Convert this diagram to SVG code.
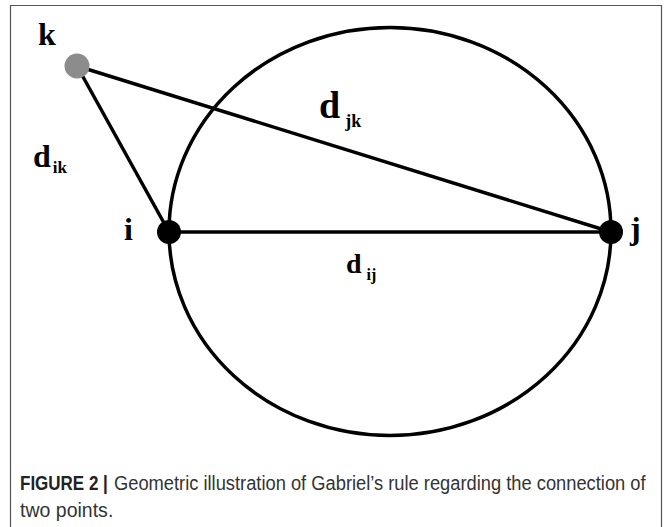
<svg xmlns="http://www.w3.org/2000/svg" width="665" height="527" viewBox="0 0 665 527">
<style>
.lbl{font-family:"Liberation Serif","Times New Roman",serif;font-weight:bold;fill:#000}
.edge{stroke:#000;stroke-width:3.5;fill:none}
.cap{font-family:"Liberation Sans",Arial,sans-serif;fill:#333;font-size:21px}
.capb{font-family:"Liberation Sans",Arial,sans-serif;fill:#222;font-size:21px;font-weight:bold}
</style>
<rect width="665" height="527" fill="#fff"/>
<path d="M10.5,528 V5.5 H661.5 V528" fill="none" stroke="#555" stroke-width="1.2"/>
<g id="connectors">
<ellipse class="edge" cx="390" cy="231.5" rx="221" ry="204"/>
<line class="edge" x1="77" y1="66" x2="169" y2="232"/>
<line class="edge" x1="77" y1="66" x2="611" y2="232"/>
<line class="edge" x1="169" y1="232" x2="611" y2="232"/>
</g>
<g id="node-k">
<circle cx="77" cy="66" r="12.5" fill="#8c8c8c"/>
<text class="lbl" x="38" y="45" font-size="32">k</text>
</g>
<g id="node-i">
<circle cx="169" cy="232" r="12" fill="#000"/>
<text class="lbl" x="124" y="240" font-size="32">i</text>
</g>
<g id="node-j">
<circle cx="611" cy="232" r="12" fill="#000"/>
<text class="lbl" x="630" y="239" font-size="32">j</text>
</g>
<g id="label-dik">
<text class="lbl" x="33" y="167" font-size="32">d<tspan font-size="17" dx="2" dy="6">ik</tspan></text>
</g>
<g id="label-djk">
<text class="lbl" x="319" y="118" font-size="38">d<tspan font-size="18" dx="5" dy="9">jk</tspan></text>
</g>
<g id="label-dij">
<text class="lbl" x="346" y="273" font-size="28">d<tspan font-size="16" dx="5" dy="7">ij</tspan></text>
</g>
<g id="caption">
<text class="capb" transform="translate(20,490) scale(0.81,1)">FIGURE 2 |</text>
<text class="cap" transform="translate(114,490) scale(0.872,1)">Geometric illustration of Gabriel’s rule regarding the connection of</text>
<text class="cap" transform="translate(20,517) scale(0.93,1)">two points.</text>
</g>
</svg>
